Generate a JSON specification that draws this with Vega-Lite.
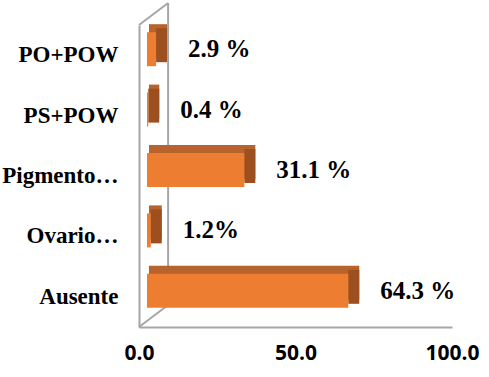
{
  "$schema": "https://vega.github.io/schema/vega-lite/v6.json",
  "width": 313,
  "height": 302,
  "autosize": {"type": "none"},
  "padding": {"left": 139, "top": 25, "right": 37, "bottom": 50},
  "background": "white",
  "config": {"view": {"stroke": null}},
  "data": {
    "values": [
      {"categoria": "PO+POW", "porcentaje": 2.9, "etiqueta": "2.9 %"},
      {"categoria": "PS+POW", "porcentaje": 0.4, "etiqueta": "0.4 %"},
      {"categoria": "Pigmento…", "porcentaje": 31.1, "etiqueta": "31.1 %"},
      {"categoria": "Ovario…", "porcentaje": 1.2, "etiqueta": "1.2%"},
      {"categoria": "Ausente", "porcentaje": 64.3, "etiqueta": "64.3 %"}
    ]
  },
  "resolve": {"scale": {"y": "independent"}, "axis": {"y": "independent"}},
  "layer": [
    {
      "data": {"values": [{"pared": "fondo", "x0": 9.3, "x1": 9.3, "y0": 0, "y1": 1, "d0": 0, "d1": -22},
                          {"pared": "arriba", "x0": 0, "x1": 9.3, "y0": 1, "y1": 1, "d0": 0, "d1": -22},
                          {"pared": "abajo", "x0": 0, "x1": 9.3, "y0": 0, "y1": 0, "d0": 0, "d1": -22}]},
      "layer": [
        {
          "transform": [{"filter": "datum.pared === 'fondo'"}],
          "mark": {"type": "rule", "color": "#A6A6A6", "strokeWidth": 2, "yOffset": -22, "y2Offset": -22},
          "encoding": {
            "x": {"field": "x0", "type": "quantitative"},
            "x2": {"field": "x1"},
            "y": {"field": "y0", "type": "quantitative", "scale": {"domain": [0, 1], "nice": false}, "axis": null},
            "y2": {"field": "y1"}
          }
        },
        {
          "transform": [{"filter": "datum.pared !== 'fondo'"}],
          "mark": {"type": "rule", "color": "#A6A6A6", "strokeWidth": 2, "y2Offset": -22},
          "encoding": {
            "x": {"field": "x0", "type": "quantitative"},
            "x2": {"field": "x1"},
            "y": {"field": "y0", "type": "quantitative", "scale": {"domain": [0, 1], "nice": false}, "axis": null},
            "y2": {"field": "y1"}
          }
        }
      ]
    },
    {
      "layer": [
        {
          "mark": {"type": "bar", "color": "#B8622C", "xOffset": 19, "x2Offset": 10, "yOffset": -14},
          "encoding": {
            "y": {"field": "categoria", "type": "nominal",
                  "sort": ["PO+POW", "PS+POW", "Pigmento…", "Ovario…", "Ausente"],
                  "scale": {"paddingInner": 0.437, "paddingOuter": 0.2185},
                  "axis": {"title": null, "ticks": false, "domainColor": "#A6A6A6", "domainWidth": 2,
                           "labelFont": "Liberation Serif", "labelFontWeight": "bold", "labelFontSize": 23,
                           "labelColor": "#000000", "labelPadding": 21, "labelLimit": 200}},
            "x": {"field": "porcentaje", "type": "quantitative",
                  "scale": {"domain": [0, 100], "nice": false},
                  "axis": {"title": null, "values": [0, 50, 100], "format": ".1f", "ticks": false, "grid": false,
                           "domainColor": "#A6A6A6", "domainWidth": 2, "labelFont": "Open Sans",
                           "labelFontWeight": "bold", "labelFontSize": 21, "labelColor": "#000000",
                           "labelPadding": 15, "labelFlush": false}},
            "x2": {"datum": 0}
          }
        },
        {
          "mark": {"type": "bar", "color": "#9C5020", "xOffset": 19, "x2Offset": 8, "yOffset": -10},
          "encoding": {
            "y": {"field": "categoria", "type": "nominal",
                  "sort": ["PO+POW", "PS+POW", "Pigmento…", "Ovario…", "Ausente"]},
            "x": {"field": "porcentaje", "type": "quantitative"},
            "x2": {"field": "porcentaje"}
          }
        },
        {
          "mark": {"type": "bar", "color": "#ED7D31", "xOffset": 8, "x2Offset": 8, "yOffset": -6},
          "encoding": {
            "y": {"field": "categoria", "type": "nominal",
                  "sort": ["PO+POW", "PS+POW", "Pigmento…", "Ovario…", "Ausente"]},
            "x": {"field": "porcentaje", "type": "quantitative"},
            "x2": {"datum": 0}
          }
        },
        {
          "mark": {"type": "text", "align": "left", "baseline": "middle", "dx": 40, "yOffset": -6,
                   "font": "Liberation Serif", "fontWeight": "bold", "fontSize": 25, "color": "#000000"},
          "encoding": {
            "y": {"field": "categoria", "type": "nominal",
                  "sort": ["PO+POW", "PS+POW", "Pigmento…", "Ovario…", "Ausente"]},
            "x": {"field": "porcentaje", "type": "quantitative"},
            "text": {"field": "etiqueta"}
          }
        }
      ]
    }
  ]
}
